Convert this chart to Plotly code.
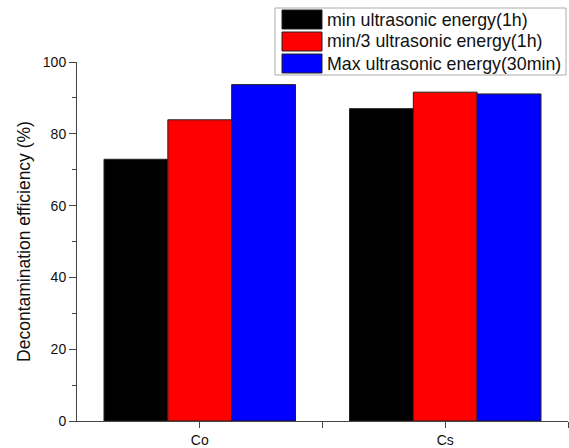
import plotly.graph_objects as go

categories = ["Co", "Cs"]
series_names = ["min ultrasonic energy(1h)", "min/3 ultrasonic energy(1h)", "Max ultrasonic energy(30min)"]
series_colors = ["#000000", "#ff0000", "#0000ff"]
min_energy_1h = [72.9, 87.0]
min3_energy_1h = [83.9, 91.6]
max_energy_30min = [93.7, 91.1]
series_values = [min_energy_1h, min3_energy_1h, max_energy_30min]
x_pos = [0, 1]

W, H = 569, 448
L, R, T, B = 77, 1, 62, 27
pw, ph = W - L - R, H - T - B


def px(x):
    return (x - L) / pw


def py(y):
    return (H - B - y) / ph


fig = go.Figure()
for name, vals, col in zip(series_names, series_values, series_colors):
    fig.add_trace(go.Bar(
        x=x_pos, y=vals, name=name,
        marker=dict(color=col, line=dict(color="#222222", width=1)),
        showlegend=False,
    ))

FONT = "Liberation Sans, Arial, sans-serif"
AX = "#444444"

# custom legend (box, swatches, labels)
shapes = [dict(type="rect", xref="paper", yref="paper",
               x0=px(275), x1=px(566), y0=py(75), y1=py(8),
               line=dict(color="#aaaaaa", width=1), fillcolor="white", layer="above")]
annotations = []
for i, (name, col) in enumerate(zip(series_names, series_colors)):
    top = 10 + i * 22
    shapes.append(dict(type="rect", xref="paper", yref="paper",
                       x0=px(282), x1=px(322), y0=py(top + 19), y1=py(top),
                       line=dict(color="#222222", width=1), fillcolor=col, layer="above"))
    annotations.append(dict(xref="paper", yref="paper", x=px(325), y=py(top + 9.5),
                            text=name, showarrow=False, xanchor="left", yanchor="middle",
                            font=dict(family=FONT, size=17.8, color="#111111")))

fig.update_layout(
    width=W, height=H,
    margin=dict(l=L, r=R, t=T, b=B, autoexpand=False),
    paper_bgcolor="white", plot_bgcolor="white",
    barmode="group", bargap=0.22, bargroupgap=0,
    font=dict(family=FONT, color="#111111"),
    shapes=shapes, annotations=annotations,
    xaxis=dict(
        range=[-0.5, 1.5], tickvals=[0, 0.5, 1, 1.5], ticktext=[categories[0], "", categories[1], ""],
        showline=True, linecolor=AX, linewidth=1, ticks="outside", ticklen=6, tickcolor=AX,
        showgrid=False, zeroline=False, tickfont=dict(size=14),
    ),
    yaxis=dict(
        range=[0, 100], tickvals=[0, 20, 40, 60, 80, 100],
        showline=True, linecolor=AX, linewidth=1, ticks="outside", ticklen=7, tickcolor=AX,
        minor=dict(tickvals=[10, 30, 50, 70, 90], ticks="outside", ticklen=4, tickcolor=AX),
        showgrid=False, zeroline=False, tickfont=dict(size=14),
        title=dict(text="Decontamination efficiency (%)", font=dict(size=17.5), standoff=7),
    ),
)

fig.write_html("out.html", config={"displayModeBar": False},
               post_script="document.body.style.margin='0';document.body.style.padding='0';")
